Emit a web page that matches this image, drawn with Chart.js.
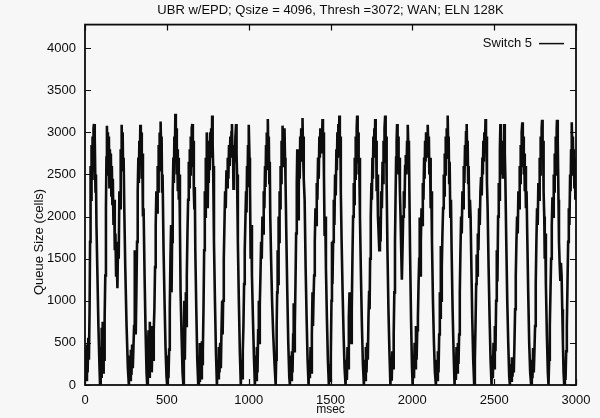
<!DOCTYPE html>
<html>
<head>
<meta charset="utf-8">
<title>UBR w/EPD queue size</title>
<script src="https://cdn.jsdelivr.net/npm/chart.js@4.4.1/dist/chart.umd.min.js"></script>
<style>
  html, body { margin: 0; padding: 0; background: #f7f7f7; }
  #wrap { width: 600px; height: 418px; }
</style>
</head>
<body>
<div id="wrap"><canvas id="queue" width="600" height="418"></canvas></div>
<script>
// Switch 5 queue occupancy: [msec, cells], one line per congestion cycle
const switch5 = [
  [0,180],[4,420],[8,60],[12,480],[16,150],[20,560],[24,300],[28,900],[31,1700],[34,2600],[37,2200],[40,2850],[43,2450],[46,2950],[49,2550],[52,3050],[55,3100],[58,2650],[61,2950],[64,2300],[67,2500],[70,1900],[76,1300],[82,700],[88,250],[92,0],
  [96,450],[99,100],[102,680],[105,200],[108,750],[111,150],[114,620],[117,300],[120,800],[124,1300],[128,2100],[131,2700],[134,3080],[137,2600],[140,3000],[143,2500],[146,2950],[149,2350],[152,2800],[155,2400],[158,2750],[161,2250],[164,2600],[167,2150],[170,2450],[174,1900],[178,2200],[182,1600],[186,1800],[190,1300],[194,1500],[198,1150],[202,1700],[206,1500],[210,2300],[214,2100],[218,2800],[221,2550],[224,3090],[227,2700],[230,3000],[233,2550],[236,2700],[240,2100],[246,1400],[254,700],[262,200],[268,0],
  [272,350],[276,60],[280,420],[284,120],[288,480],[292,200],[296,450],[300,700],[304,1600],[307,900],[310,600],[314,1100],[318,1700],[322,2300],[326,2700],[329,2400],[332,2900],[335,2600],[338,3090],[341,2700],[344,3000],[347,2450],[350,2750],[354,2000],[358,2100],[364,1300],[370,650],[376,150],[380,0],
  [384,300],[388,650],[392,100],[396,750],[400,250],[404,700],[408,150],[412,550],[416,300],[420,650],[424,900],[428,1400],[432,1900],[436,2300],[440,2050],[444,2600],[447,2300],[450,2850],[453,2550],[456,3000],[459,2700],[462,3130],[465,2800],[468,2950],[471,2300],[474,2500],[480,1600],[486,1000],[492,450],[498,100],[502,0],
  [506,350],[510,80],[514,420],[518,900],[522,1500],[526,1900],[529,1100],[532,1700],[536,2300],[540,2700],[543,2400],[546,2950],[549,2650],[552,3220],[555,2800],[558,3050],[561,2500],[564,2800],[567,2300],[570,2700],[573,2200],[576,2500],[580,1900],[584,1100],[590,600],[596,150],[601,0],
  [604,500],[607,1000],[610,300],[613,750],[616,1100],[619,700],[622,1300],[626,1800],[630,2200],[634,2650],[637,2350],[640,2800],[643,2500],[646,2950],[649,2600],[652,3050],[656,3100],[659,2700],[662,2900],[665,2300],[668,2100],[671,2350],[674,1600],[680,900],[686,300],[692,0],
  [696,350],[699,50],[702,500],[705,150],[708,450],[711,80],[714,520],[717,250],[720,400],[724,900],[728,1600],[732,2300],[735,2000],[738,2700],[741,2400],[744,3000],[747,2600],[750,2100],[753,2700],[756,2400],[759,2900],[762,2550],[765,3000],[768,2700],[771,3050],[774,2750],[777,3200],[780,2850],[783,2600],[788,1700],[794,1000],[800,400],[806,0],
  [810,300],[814,80],[818,450],[822,150],[826,500],[830,200],[834,650],[838,1000],[841,600],[844,1000],[848,1500],[852,1900],[856,2300],[860,2100],[864,2550],[868,2350],[872,2700],[876,2450],[880,2850],[884,2600],[888,2950],[892,2700],[895,3000],[898,3100],[901,2750],[904,2850],[907,2330],[910,2600],[913,2840],[916,2650],[919,2950],[923,3100],[926,2750],[929,2500],[934,1700],[940,1000],[946,400],[952,0],
  [956,300],[960,80],[964,400],[968,700],[972,1200],[976,1600],[980,1950],[984,2300],[987,2050],[990,2600],[993,2350],[996,2850],[999,2600],[1002,3090],[1005,2700],[1008,2400],[1012,1500],[1016,1900],[1020,1300],[1026,800],[1032,350],[1038,0],
  [1042,350],[1046,60],[1050,450],[1054,150],[1058,650],[1062,1000],[1065,500],[1068,950],[1072,1300],[1076,1700],[1080,1500],[1084,2000],[1088,1800],[1092,2300],[1096,2100],[1100,2600],[1103,2350],[1106,2850],[1109,2550],[1112,3000],[1115,2750],[1117,3160],[1120,2800],[1123,2950],[1126,2400],[1129,2650],[1132,2000],[1137,1500],[1143,1000],[1150,600],[1158,250],[1165,0],
  [1168,300],[1171,700],[1174,1100],[1177,1600],[1180,1200],[1183,2000],[1186,1700],[1189,2300],[1192,2100],[1195,2600],[1198,2400],[1201,2900],[1204,2650],[1207,3080],[1210,2750],[1213,3000],[1216,2600],[1219,3050],[1222,2700],[1225,2450],[1230,1800],[1236,1100],[1242,500],[1248,100],[1252,0],
  [1256,350],[1260,60],[1264,400],[1268,150],[1272,600],[1275,970],[1278,400],[1282,700],[1286,1200],[1290,1800],[1294,2400],[1297,2800],[1300,2500],[1303,1970],[1306,2300],[1309,2700],[1312,2450],[1315,2950],[1318,2650],[1321,3050],[1324,2750],[1327,3000],[1329,3170],[1332,2800],[1335,2950],[1338,2450],[1342,2200],[1348,1400],[1354,800],[1360,300],[1366,0],
  [1370,300],[1374,80],[1378,450],[1382,150],[1386,600],[1390,1100],[1393,700],[1396,1000],[1400,1300],[1404,1700],[1408,2100],[1412,1900],[1416,2400],[1420,2200],[1424,2700],[1428,2450],[1432,2950],[1435,2700],[1438,3050],[1441,2800],[1444,3000],[1447,2750],[1451,3160],[1454,2850],[1457,3000],[1460,2500],[1464,1770],[1468,2000],[1472,1400],[1478,800],[1484,300],[1490,0],
  [1494,250],[1498,50],[1502,350],[1506,1000],[1509,1700],[1512,1200],[1516,1700],[1520,2200],[1524,1900],[1528,2500],[1532,2250],[1536,2800],[1539,2550],[1542,3000],[1545,2700],[1548,3100],[1551,2800],[1554,3200],[1557,2850],[1560,2950],[1563,2300],[1568,1700],[1574,1100],[1580,600],[1586,200],[1592,0],
  [1596,300],[1600,60],[1604,450],[1608,200],[1612,800],[1616,1100],[1619,600],[1622,1000],[1626,500],[1630,900],[1634,1500],[1638,2000],[1642,2400],[1645,2150],[1648,2700],[1651,2450],[1654,2950],[1657,2650],[1660,3050],[1663,3200],[1666,2850],[1669,3000],[1672,2500],[1675,2700],[1680,2000],[1686,1300],[1692,700],[1698,250],[1704,0],
  [1708,300],[1712,60],[1716,450],[1720,150],[1724,500],[1728,300],[1732,800],[1736,1120],[1739,900],[1742,1500],[1746,2000],[1750,2400],[1753,2200],[1756,2700],[1759,2450],[1762,2950],[1765,2700],[1768,3050],[1771,2800],[1773,3160],[1776,2850],[1779,2900],[1782,2300],[1786,2500],[1790,2000],[1794,1800],[1798,1600],[1802,2000],[1806,1700],[1810,2300],[1814,2100],[1818,2650],[1821,2400],[1824,2900],[1827,2650],[1830,3050],[1834,3200],[1837,2850],[1840,2950],[1843,2400],[1848,1600],[1854,900],[1860,400],[1866,0],
  [1870,300],[1874,50],[1878,400],[1882,200],[1886,600],[1890,1100],[1894,1700],[1898,2300],[1901,2700],[1904,2900],[1907,3100],[1910,2750],[1913,2950],[1916,2500],[1920,2700],[1924,2300],[1928,2000],[1932,1600],[1936,1250],[1940,1600],[1944,2000],[1948,2300],[1952,2100],[1956,2600],[1960,2730],[1964,2500],[1968,2900],[1971,2700],[1973,3090],[1976,2800],[1979,2900],[1982,2300],[1986,1600],[1992,800],[1998,200],[2002,0],
  [2006,350],[2010,80],[2014,500],[2018,200],[2022,700],[2026,300],[2030,650],[2034,800],[2038,1200],[2042,1500],[2045,1990],[2048,1300],[2052,1700],[2056,2100],[2060,1900],[2064,2400],[2068,2200],[2072,2700],[2075,2450],[2078,2900],[2081,2650],[2084,3000],[2087,2700],[2090,2950],[2093,2700],[2095,3090],[2098,2800],[2101,2950],[2104,2500],[2108,2700],[2112,2100],[2116,2300],[2120,1700],[2126,1000],[2132,500],[2138,150],[2144,0],
  [2148,300],[2152,60],[2156,400],[2160,150],[2164,600],[2168,1100],[2171,800],[2174,1650],[2177,1000],[2180,1400],[2184,1800],[2188,2100],[2192,2500],[2195,2250],[2198,2750],[2201,2500],[2204,2950],[2207,2700],[2210,3050],[2213,2800],[2216,3200],[2219,2850],[2222,2950],[2225,2400],[2228,2650],[2232,2000],[2236,2200],[2240,1600],[2246,900],[2252,400],[2258,0],
  [2262,300],[2266,60],[2270,450],[2274,150],[2278,500],[2282,250],[2286,600],[2290,1100],[2294,1600],[2298,2000],[2302,1800],[2306,2300],[2310,2100],[2314,2600],[2318,2400],[2322,2850],[2325,2600],[2328,3000],[2332,3100],[2335,2750],[2338,2900],[2341,2400],[2344,2600],[2348,2000],[2352,2200],[2356,2000],[2360,1500],[2366,800],[2372,300],[2378,0],
  [2382,300],[2386,700],[2390,1200],[2393,1550],[2396,1300],[2400,1800],[2404,1600],[2408,2100],[2412,1900],[2416,2300],[2420,2470],[2424,2250],[2428,2700],[2431,2500],[2434,2900],[2437,2650],[2440,3000],[2443,2750],[2447,3160],[2450,2800],[2453,2950],[2456,2400],[2460,2100],[2466,1400],[2472,800],[2478,300],[2484,0],
  [2488,350],[2492,80],[2496,500],[2500,200],[2504,700],[2508,400],[2512,1000],[2516,1600],[2520,1230],[2524,2000],[2528,2400],[2532,2200],[2535,2800],[2538,3100],[2541,2750],[2544,2900],[2547,2500],[2550,2800],[2553,2450],[2556,2900],[2559,2600],[2562,3100],[2565,2750],[2568,2500],[2574,1700],[2580,1000],[2586,500],[2592,100],[2596,0],
  [2600,250],[2604,50],[2608,330],[2612,100],[2616,300],[2620,150],[2624,500],[2628,900],[2632,1300],[2636,1700],[2640,2000],[2644,1800],[2648,2300],[2652,2100],[2656,2600],[2659,2400],[2662,2850],[2665,2600],[2668,3000],[2672,3120],[2675,2800],[2678,2950],[2681,2500],[2684,2750],[2687,2300],[2690,2600],[2694,2100],[2698,2300],[2702,1800],[2708,1100],[2714,500],[2720,150],[2726,0],
  [2730,300],[2734,80],[2738,440],[2742,150],[2746,400],[2750,700],[2754,1200],[2758,1700],[2762,2100],[2766,1900],[2770,2400],[2774,2200],[2778,2700],[2781,2500],[2784,2950],[2787,2700],[2790,3050],[2793,3150],[2796,2800],[2799,2900],[2802,2300],[2806,2000],[2809,1500],[2812,1800],[2816,1200],[2822,600],[2828,150],[2832,0],
  [2836,300],[2840,700],[2844,1100],[2848,1500],[2852,1900],[2856,2230],[2860,2000],[2864,2500],[2867,2300],[2870,2750],[2873,2500],[2876,2950],[2879,2700],[2882,3050],[2884,3150],[2887,2800],[2890,2900],[2893,2200],[2896,1700],[2900,1450],[2904,1250],[2908,1450],[2912,1300],[2916,900],[2920,500],[2924,150],[2928,0],
  [2932,250],[2936,60],[2940,400],[2944,700],[2948,1200],[2952,1700],[2956,2100],[2960,1900],[2964,2500],[2967,2300],[2970,2800],[2973,2600],[2975,3120],[2978,2750],[2981,2950],[2984,2500],[2987,2800],[2990,2350],[2993,2700],[2996,2200],[3000,2600]
];

const xTicks = [0, 500, 1000, 1500, 2000, 2500, 3000];
const yTicks = [0, 500, 1000, 1500, 2000, 2500, 3000, 3500, 4000];
const seriesLabel = 'Switch 5';
const titleText = 'UBR w/EPD; Qsize = 4096, Thresh =3072; WAN; ELN 128K';
const xTitle = 'msec';
const yTitle = 'Queue Size (cells)';

const ink = '#0d0d0d';
Chart.defaults.font.family = '"Liberation Sans", Arial, Helvetica, sans-serif';
Chart.defaults.color = ink;

// gnuplot-style frame: closed border, inward ticks on all sides, key in the corner
const gnuplotFrame = {
  id: 'gnuplotFrame',
  afterDatasetsDraw(chart) {
    const { ctx, chartArea: a, scales: { x, y } } = chart;
    ctx.save();
    ctx.strokeStyle = ink;
    ctx.lineWidth = 1.8;
    ctx.strokeRect(a.left, a.top, a.right - a.left, a.bottom - a.top);

    ctx.lineWidth = 1.2;
    ctx.beginPath();
    xTicks.forEach(v => {
      const px = Math.round(x.getPixelForValue(v)) + 0.5;
      ctx.moveTo(px, a.bottom); ctx.lineTo(px, a.bottom - 6);
      ctx.moveTo(px, a.top); ctx.lineTo(px, a.top + 6);
    });
    yTicks.forEach(v => {
      const py = Math.round(y.getPixelForValue(v)) + 0.5;
      ctx.moveTo(a.left, py); ctx.lineTo(a.left + 6, py);
      ctx.moveTo(a.right, py); ctx.lineTo(a.right - 6, py);
    });
    ctx.stroke();

    // key
    const ky = a.top + 18.5;
    ctx.font = '13px "Liberation Sans", Arial, sans-serif';
    ctx.fillStyle = ink;
    ctx.textAlign = 'right';
    ctx.textBaseline = 'middle';
    ctx.fillText(chart.data.datasets[0].label, a.right - 44, ky);
    ctx.lineWidth = 1.5;
    ctx.beginPath();
    ctx.moveTo(a.right - 37, ky + 0.5);
    ctx.lineTo(a.right - 12, ky + 0.5);
    ctx.stroke();

    // y axis title, sits a little below the middle of the axis
    ctx.translate(39, 242);
    ctx.rotate(-Math.PI / 2);
    ctx.textAlign = 'center';
    ctx.fillText(yTitle, 0, 0);
    ctx.restore();
  }
};

new Chart(document.getElementById('queue'), {
  type: 'line',
  data: {
    datasets: [{
      label: seriesLabel,
      data: switch5.map(([t, q]) => ({ x: t, y: q })),
      borderColor: ink,
      borderWidth: 2.6,
      pointRadius: 0,
      tension: 0,
      fill: false
    }]
  },
  options: {
    responsive: false,
    animation: false,
    events: [],
    layout: { padding: { top: 0, right: 24, bottom: 0, left: 0 } },
    plugins: {
      legend: { display: false },
      tooltip: { enabled: false },
      title: {
        display: true,
        text: titleText,
        fullSize: false,
        color: ink,
        font: { size: 13, weight: 'normal' },
        padding: { top: 3, bottom: 6 }
      }
    },
    scales: {
      x: {
        type: 'linear',
        min: 0,
        max: 3000,
        afterBuildTicks: s => { s.ticks = xTicks.map(v => ({ value: v })); },
        afterFit: s => { s.height = 33; },
        grid: { display: false, drawTicks: false },
        border: { display: false },
        ticks: {
          padding: 8,
          maxRotation: 0,
          color: ink,
          font: { size: 13 },
          callback: v => String(v)
        },
        title: {
          display: true,
          text: xTitle,
          color: ink,
          font: { size: 12 },
          padding: { top: 0, bottom: 1 }
        }
      },
      y: {
        min: 0,
        max: 4280,
        afterBuildTicks: s => { s.ticks = yTicks.map(v => ({ value: v })); },
        afterFit: s => { s.width = 85; },
        grid: { display: false, drawTicks: false },
        border: { display: false },
        ticks: {
          padding: 9,
          color: ink,
          font: { size: 13 },
          callback: v => String(v)
        }
      }
    }
  },
  plugins: [gnuplotFrame]
});
</script>
</body>
</html>
